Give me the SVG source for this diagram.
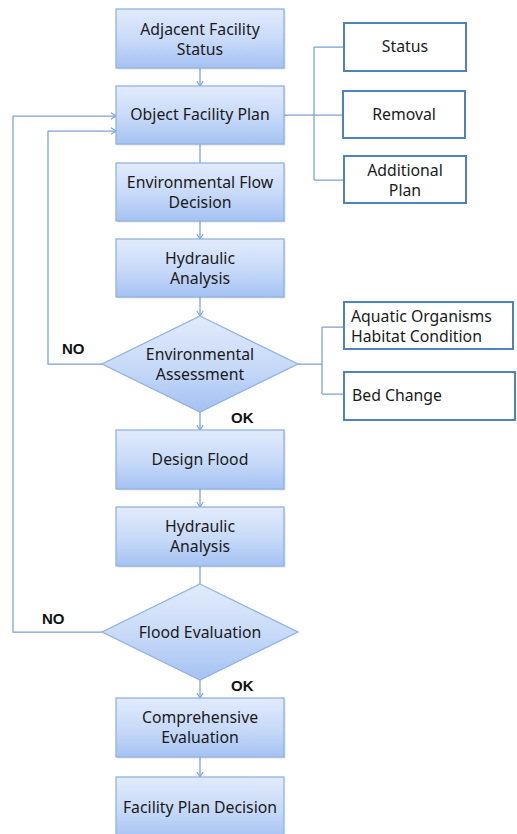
<svg xmlns="http://www.w3.org/2000/svg" width="517" height="834" viewBox="0 0 517 834">
<defs>
<linearGradient id="g" x1="0" y1="0" x2="0" y2="1">
<stop offset="0" stop-color="#e2ebfc"/>
<stop offset="0.5" stop-color="#c9dbf8"/>
<stop offset="1" stop-color="#a5c2f3"/>
</linearGradient>
<marker id="ah" markerWidth="8" markerHeight="8" refX="6" refY="4" orient="auto" markerUnits="userSpaceOnUse">
<path d="M1,0.8 L6,4 L1,7.2" fill="none" stroke="#7ba0d8" stroke-width="1.1"/>
</marker>
</defs>
<style>
.box{fill:url(#g);stroke:#8fb2e4;stroke-width:1.3}
.sh{fill:#000;opacity:0.12}
.sub{fill:#fff;stroke:#4f81bd;stroke-width:2}
.t{font-family:"Noto Sans","Liberation Sans",Arial,sans-serif;font-size:15.8px;fill:#1a1a1a;text-anchor:middle}
.tl{font-family:"Noto Sans","Liberation Sans",Arial,sans-serif;font-size:15.8px;fill:#1a1a1a}
.b{font-family:"Liberation Sans",Arial,sans-serif;font-size:15px;font-weight:bold;fill:#111}
.c{fill:none;stroke:#7ba0d8;stroke-width:1.25}
</style>
<rect width="517" height="834" fill="#fff"/>
<g id="connectors">
<path class="c" d="M200,68 V86" marker-end="url(#ah)"/>
<path class="c" d="M200,144 V163"/>
<path class="c" d="M200,221 V239" marker-end="url(#ah)"/>
<path class="c" d="M200,297 V316" marker-end="url(#ah)"/>
<path class="c" d="M200,412 V430" marker-end="url(#ah)"/>
<path class="c" d="M200,489 V507" marker-end="url(#ah)"/>
<path class="c" d="M200,566 V584"/>
<path class="c" d="M200,680 V698" marker-end="url(#ah)"/>
<path class="c" d="M200,757 V777" marker-end="url(#ah)"/>
<path class="c" d="M102,364 H48 V131 H116" marker-end="url(#ah)"/>
<path class="c" d="M102,632 H13 V116 H116" marker-end="url(#ah)"/>
<path class="c" d="M284,115 H314 M314,47 V180 M314,47 H344 M314,115 H343 M314,180 H344"/>
<path class="c" d="M298,364 H322 M322,327 V394 M322,327 H344 M322,394 H344"/>
</g>
<g id="n1"><rect class="sh" x="117.5" y="10.5" width="168" height="59"/><rect class="box" x="116" y="9" width="168" height="59"/><text class="t" x="200" y="34.5">Adjacent Facility</text><text class="t" x="200" y="54.5">Status</text></g>
<g id="n2"><rect class="sh" x="117.5" y="87.5" width="168" height="58"/><rect class="box" x="116" y="86" width="168" height="58"/><text class="t" x="200" y="120">Object Facility Plan</text></g>
<g id="n3"><rect class="sh" x="117.5" y="164.5" width="168" height="58"/><rect class="box" x="116" y="163" width="168" height="58"/><text class="t" x="200" y="188">Environmental Flow</text><text class="t" x="200" y="208">Decision</text></g>
<g id="n4"><rect class="sh" x="117.5" y="240.5" width="168" height="58"/><rect class="box" x="116" y="239" width="168" height="58"/><text class="t" x="200" y="264">Hydraulic</text><text class="t" x="200" y="284">Analysis</text></g>
<g id="d1"><polygon class="box" points="200,316 298,364 200,412 102,364"/><text class="t" x="200" y="360">Environmental</text><text class="t" x="200" y="380">Assessment</text></g>
<g id="n5"><rect class="sh" x="117.5" y="431.5" width="168" height="59"/><rect class="box" x="116" y="430" width="168" height="59"/><text class="t" x="200" y="465">Design Flood</text></g>
<g id="n6"><rect class="sh" x="117.5" y="508.5" width="168" height="59"/><rect class="box" x="116" y="507" width="168" height="59"/><text class="t" x="200" y="532">Hydraulic</text><text class="t" x="200" y="552">Analysis</text></g>
<g id="d2"><polygon class="box" points="200,584 298,632 200,680 102,632"/><text class="t" x="200" y="638">Flood Evaluation</text></g>
<g id="n7"><rect class="sh" x="117.5" y="699.5" width="168" height="59"/><rect class="box" x="116" y="698" width="168" height="59"/><text class="t" x="200" y="723">Comprehensive</text><text class="t" x="200" y="743">Evaluation</text></g>
<g id="n8"><rect class="box" x="116" y="777" width="168" height="62"/><text class="t" x="200" y="813">Facility Plan Decision</text></g>
<g id="s1"><rect class="sub" x="344" y="23" width="122" height="48"/><text class="t" x="405" y="52">Status</text></g>
<g id="s2"><rect class="sub" x="343" y="91" width="122" height="47"/><text class="t" x="404" y="120">Removal</text></g>
<g id="s3"><rect class="sub" x="344" y="156" width="122" height="47"/><text class="t" x="405" y="176">Additional</text><text class="t" x="405" y="196">Plan</text></g>
<g id="s4"><rect class="sub" x="344" y="302" width="169" height="47"/><text class="tl" x="351" y="322">Aquatic Organisms</text><text class="tl" x="351" y="342">Habitat Condition</text></g>
<g id="s5"><rect class="sub" x="344" y="372" width="171" height="48"/><text class="tl" x="352" y="401">Bed Change</text></g>
<g id="labels"><text class="b" x="62" y="354">NO</text><text class="b" x="231" y="423">OK</text><text class="b" x="42" y="624">NO</text><text class="b" x="231" y="691">OK</text></g>
</svg>
